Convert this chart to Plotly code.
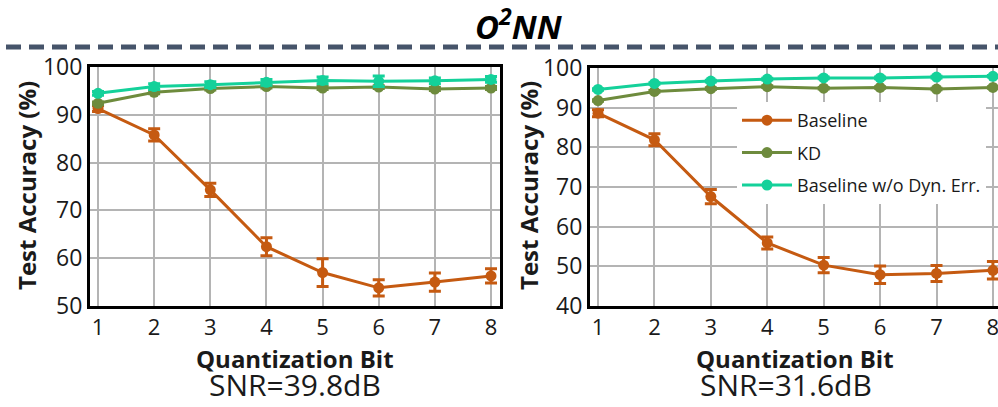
import plotly.graph_objects as go

W, H = 998, 407

bits = [1, 2, 3, 4, 5, 6, 7, 8]
series_names = ["Baseline", "KD", "Baseline w/o Dyn. Err."]
colors = ["#C55A11", "#6E8B3D", "#14D19A"]

# SNR = 39.8 dB (left)
left_baseline = [91.3, 85.8, 74.3, 62.4, 57.0, 53.8, 55.0, 56.3]
left_baseline_err = [0.6, 1.3, 1.4, 1.9, 2.9, 1.7, 1.9, 1.5]
left_kd = [92.4, 94.7, 95.5, 95.9, 95.6, 95.8, 95.4, 95.6]
left_kd_err = [0.3, 0.3, 0.3, 0.3, 0.3, 0.3, 0.3, 0.3]
left_wo = [94.5, 95.9, 96.3, 96.8, 97.2, 97.0, 97.1, 97.4]
left_wo_err = [0.4, 0.6, 0.6, 0.6, 0.7, 1.1, 0.6, 0.6]

# SNR = 31.6 dB (right)
right_baseline = [88.6, 81.9, 67.6, 55.9, 50.3, 47.9, 48.2, 49.0]
right_baseline_err = [0.9, 1.5, 1.8, 1.5, 1.9, 2.2, 2.0, 2.2]
right_kd = [91.8, 94.1, 94.8, 95.3, 94.9, 95.1, 94.7, 95.1]
right_kd_err = [0.2, 0.2, 0.2, 0.2, 0.2, 0.2, 0.2, 0.2]
right_wo = [94.6, 96.1, 96.7, 97.2, 97.5, 97.5, 97.7, 97.9]
right_wo_err = [0.2, 0.2, 0.2, 0.2, 0.2, 0.2, 0.2, 0.2]

left_yticks = [50, 60, 70, 80, 90, 100]
right_yticks = [40, 50, 60, 70, 80, 90, 100]

title_text = "<b><i>O<sup>2</sup>NN</i></b>"
xtitle = "Quantization Bit"
ytitle = "Test Accuracy (%)"
snr_labels = ["SNR=39.8dB", "SNR=31.6dB"]

FONT = "Open Sans"

def px(x):
    return x / W

def py(y):
    return 1 - y / H

fig = go.Figure()

panels = [
    ("x", "y", [left_baseline, left_kd, left_wo], [left_baseline_err, left_kd_err, left_wo_err], False),
    ("x2", "y2", [right_baseline, right_kd, right_wo], [right_baseline_err, right_kd_err, right_wo_err], True),
]

for xa, ya, vals, errs, show in panels:
    for i in range(3):
        fig.add_trace(go.Scatter(
            x=bits, y=vals[i], xaxis=xa, yaxis=ya,
            mode="lines+markers",
            name=series_names[i], showlegend=show,
            legendgroup=f"g{i}",
            line=dict(color=colors[i], width=3),
            marker=dict(color=colors[i], size=11),
            error_y=dict(type="data", array=errs[i], color=colors[i], thickness=3, width=6),
        ))

axis_common = dict(
    showgrid=True, gridcolor="#B4B4B4", gridwidth=2,
    zeroline=False, ticks="",
    linecolor="black", linewidth=3, showline=True,
    ticklabeloverflow="allow",
)
xtick_font = dict(family=FONT, size=22, color="#1A1A1A")
ytick_font = dict(family=FONT, size=23, color="#1A1A1A")

fig.update_layout(
    width=W, height=H,
    margin=dict(l=0, r=0, t=0, b=0, autoexpand=False),
    plot_bgcolor="white", paper_bgcolor="white",
    font=dict(family=FONT, color="#1A1A1A"),
    xaxis=dict(axis_common, domain=[px(90), px(500)], range=[0.857, 8.16],
               tickvals=bits, mirror=True, anchor="y", tickfont=xtick_font),
    yaxis=dict(axis_common, domain=[py(306), py(67)], range=[50, 100],
               tickvals=left_yticks, mirror=True, anchor="x", tickfont=ytick_font),
    xaxis2=dict(axis_common, domain=[px(590), 1.0], range=[0.858, 8.09],
                tickvals=bits, mirror=True, anchor="y2", tickfont=xtick_font),
    yaxis2=dict(axis_common, domain=[py(306), py(68)], range=[40, 100],
                tickvals=right_yticks, mirror=False, anchor="x2", tickfont=ytick_font),
    legend=dict(
        x=px(737), y=py(102), xanchor="left", yanchor="top",
        bgcolor="white", borderwidth=0,
        font=dict(family=FONT, size=18, color="#1A1A1A"),
        tracegroupgap=6, itemwidth=50,
    ),
    showlegend=True,
)

def ann(text, x, y, size, color="#1A1A1A", angle=0, yanchor="middle"):
    return dict(text=text, x=px(x), y=py(y), xref="paper", yref="paper",
                xanchor="center", yanchor=yanchor, textangle=angle,
                showarrow=False, font=dict(family=FONT, size=size, color=color))

annotations = [
    ann(title_text, 519, 24, 33, color="black"),
    ann(f"<b>{xtitle}</b>", 295, 358, 24),
    ann(f"<b>{xtitle}</b>", 795, 358, 24),
    ann(snr_labels[0], 295, 407, 30, yanchor="bottom"),
    ann(snr_labels[1], 786, 407, 30, yanchor="bottom"),
    ann(f"<b>{ytitle}</b>", 26, 186, 24, angle=-90),
    ann(f"<b>{ytitle}</b>", 528, 186, 24, angle=-90),
]
fig.update_layout(annotations=annotations)

fig.add_shape(type="line", xref="paper", yref="paper",
              x0=px(6), x1=1.0, y0=py(47), y1=py(47),
              line=dict(color="#46546A", width=5, dash="15px,8px"))

fig.write_html("out.html")
